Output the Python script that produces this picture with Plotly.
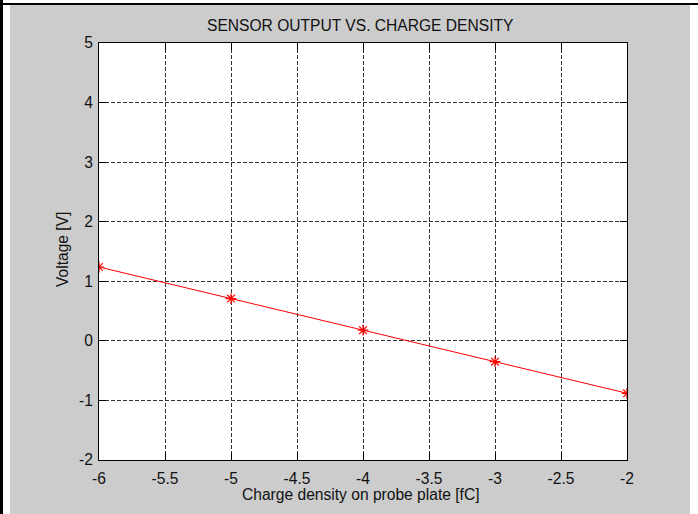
import plotly.graph_objects as go

# Measured sensor response
charge_fc = [-6, -5, -4, -3, -2]
voltage_v = [1.24, 0.71, 0.18, -0.35, -0.88]

# Axis ticks (hyphen minus, as printed on the original figure)
x_tick_vals = [-6, -5.5, -5, -4.5, -4, -3.5, -3, -2.5, -2]
x_tick_text = ["-6", "-5.5", "-5", "-4.5", "-4", "-3.5", "-3", "-2.5", "-2"]
y_tick_vals = [-2, -1, 0, 1, 2, 3, 4, 5]
y_tick_text = ["-2", "-1", "0", "1", "2", "3", "4", "5"]

W, H = 698, 514
L, R, T, B = 99, 627, 43, 460  # plot area edges in pixels
PW, PH = R - L, B - T


def px(x):
    return (x - L) / PW


def py(y):
    return (B - y) / PH


FONT = "Liberation Sans, Arial, Helvetica, sans-serif"
TXT = "#111111"
FS = 15.6

fig = go.Figure()
fig.add_trace(go.Scatter(
    x=charge_fc, y=voltage_v,
    mode="lines+markers",
    line=dict(color="#ff0000", width=1),
    marker=dict(symbol="asterisk-open", size=9,
                line=dict(color="#ff0000", width=1.2), color="#ff0000"),
    showlegend=False,
))

axis_common = dict(
    showline=True, linecolor="black", linewidth=1, mirror="ticks",
    ticks="inside", ticklen=7, tickcolor="black", tickwidth=1,
    showgrid=True, gridcolor="#333333", gridwidth=1, griddash="4px,2px",
    zeroline=False,
    tickfont=dict(family=FONT, size=FS, color=TXT),
    fixedrange=True,
)

fig.update_xaxes(range=[-6, -2], tickmode="array",
                 tickvals=x_tick_vals, ticktext=x_tick_text,
                 ticklabelstandoff=4, **axis_common)
fig.update_yaxes(range=[-2, 5], tickmode="array",
                 tickvals=y_tick_vals, ticktext=y_tick_text,
                 ticklabelstandoff=2, **axis_common)

shapes = []


def rect(x0, y0, x1, y1, color):
    shapes.append(dict(type="rect", xref="paper", yref="paper",
                       x0=px(x0), x1=px(x1), y0=py(y1), y1=py(y0),
                       fillcolor=color, line=dict(width=0), layer="above"))


# Window frame around the figure
rect(3, 0, W, 3, "white")
rect(3, 5, 10, H, "white")
rect(690, 5, W, H, "white")
rect(0, 3, W, 5, "black")
rect(0, 0, 3, H, "black")

annotations = [
    dict(text="SENSOR OUTPUT VS. CHARGE DENSITY", x=px(360), y=py(25),
         xref="paper", yref="paper", xanchor="center", yanchor="middle",
         showarrow=False, font=dict(family=FONT, size=FS, color=TXT)),
    dict(text="Charge density on probe plate [fC]", x=px(361), y=py(495),
         xref="paper", yref="paper", xanchor="center", yanchor="middle",
         showarrow=False, font=dict(family=FONT, size=FS, color=TXT)),
    dict(text="Voltage [V]", x=px(62), y=py(250), textangle=-90,
         xref="paper", yref="paper", xanchor="center", yanchor="middle",
         showarrow=False, font=dict(family=FONT, size=FS, color=TXT)),
]

fig.update_layout(
    width=W, height=H,
    margin=dict(l=L, r=W - R, t=T, b=H - B, pad=0),
    paper_bgcolor="#cccccc", plot_bgcolor="white",
    shapes=shapes, annotations=annotations,
)

fig.write_html("out.html")
